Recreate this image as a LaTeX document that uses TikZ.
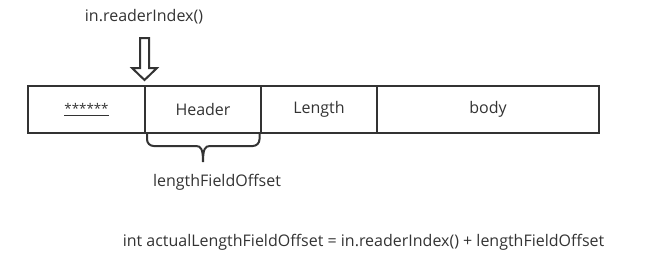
\documentclass[tikz,border=0pt]{standalone}
\usepackage{fontspec}
\setmainfont{Open Sans}
\definecolor{ink}{HTML}{333333}
\begin{document}
\begin{tikzpicture}[x=0.75pt,y=-0.75pt,font=\fontsize{12}{14}\selectfont,
    text=ink,
    cell/.style={draw=ink,line width=1.5pt,minimum height=47*0.75pt,
      inner sep=0pt,anchor=center},
    outline/.style={draw=ink,line width=1.5pt,line join=miter}]
  \useasboundingbox (0,0) rectangle (672,265);
  % buffer cells
  \node[cell,minimum width=117*0.75pt] (stars) at (86.5,109.5)
    {\fontsize{10}{12}\selectfont\underline{******}};
  \node[cell,minimum width=116*0.75pt] (header) at (203,109.5) {Header};
  \node[cell,minimum width=116*0.75pt] (length) at (319,109.5) {Length};
  \node[cell,minimum width=222*0.75pt] (body) at (488,109.5) {body};
  % read pointer
  \node (reader) at (144,17) {in.readerIndex()};
  \coordinate (tip) at (144.5,80);
  \draw[outline] (140,38) -- (149,38) -- (149,68) -- (157,68) -- (tip)
    -- (132,68) -- (140,68) -- cycle;
  % offset brace under the header cell
  \coordinate (bl) at (147,133);
  \coordinate (br) at (259.5,133);
  \coordinate (mid) at (203,162);
  \draw[ink,line width=1.5pt,rounded corners=5pt]
    (bl) -- (bl|-0,146) -- (196,146);
  \draw[ink,line width=1.5pt,rounded corners=5pt]
    (br) -- (br|-0,146) -- (210,146);
  \draw[ink,line width=1.5pt]
    (196,146) .. controls (201,146) and (203,149) .. (mid)
    .. controls (203,149) and (205,146) .. (210,146);
  \node (offset) at (217,182) {lengthFieldOffset};
  \node (formula) at (363.5,242)
    {int actualLengthFieldOffset = in.readerIndex() + lengthFieldOffset};
\end{tikzpicture}
\end{document}
